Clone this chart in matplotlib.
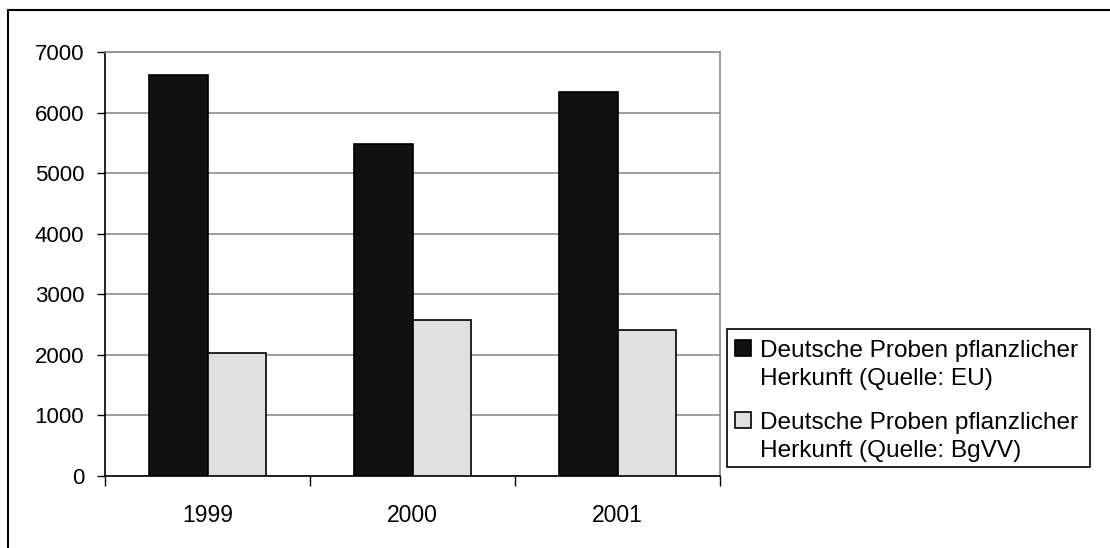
import matplotlib
matplotlib.use("Agg")

import matplotlib.pyplot as plt
import numpy as np
from matplotlib.patches import Rectangle

plt.rcParams["font.family"] = ["Liberation Sans", "DejaVu Sans"]

# data
years = ["1999", "2000", "2001"]
eu_values = [6620, 5485, 6340]
bgvv_values = [2040, 2580, 2420]
series_labels = [
    ["Deutsche Proben pflanzlicher", "Herkunft (Quelle: EU)"],
    ["Deutsche Proben pflanzlicher", "Herkunft (Quelle: BgVV)"],
]
series_colors = ["#111111", "#e0e0e0"]
y_ticks = [0, 1000, 2000, 3000, 4000, 5000, 6000, 7000]

W, H = 1110, 548


def fx(px):
    return px / W


def fy(py):
    return 1 - py / H


fig = plt.figure(figsize=(W / 100, H / 100), dpi=100)
ax = fig.add_axes([fx(105), fy(476), (720 - 105) / W, (476 - 52.3) / H])

x = np.arange(len(years))
bar_w = 0.283
ax.bar(x - bar_w / 2, eu_values, bar_w, color=series_colors[0],
       edgecolor="black", linewidth=1.2, zorder=3)
ax.bar(x + bar_w / 2, bgvv_values, bar_w, color=series_colors[1],
       edgecolor="black", linewidth=1.2, zorder=3)

ax.set_xlim(-0.5, len(years) - 0.5)
ax.set_ylim(0, 7000)
ax.set_yticks(y_ticks)
ax.set_yticklabels([str(v) for v in y_ticks])
ax.yaxis.grid(True, color="#8c8c8c", linewidth=1.2, zorder=0)

# category labels centred, ticks on the boundaries
ax.set_xticks(x)
ax.set_xticklabels(years)
ax.set_xticks(np.arange(-0.5, len(years)), minor=True)
ax.tick_params(axis="x", which="major", length=0, pad=20, labelsize=16.5)
ax.tick_params(axis="x", which="minor", length=7, width=1, direction="out")
ax.tick_params(axis="y", length=6, width=1, direction="out", pad=9, labelsize=16)

for side in ("top", "right"):
    ax.spines[side].set_color("#8c8c8c")
    ax.spines[side].set_linewidth(1.2)
for side in ("left", "bottom"):
    ax.spines[side].set_color("black")
    ax.spines[side].set_linewidth(1.2)

# legend drawn by hand so the swatch sits on the first text line (Excel style)
fig.patches.append(Rectangle((fx(727), fy(467)), (1090 - 727) / W, (467 - 329) / H,
                             transform=fig.transFigure, fill=False,
                             edgecolor="black", linewidth=1.2))
entry_top = [340, 412]
for lines, color, top in zip(series_labels, series_colors, entry_top):
    fig.patches.append(Rectangle((fx(735), fy(top + 16)), 16 / W, 16 / H,
                                 transform=fig.transFigure, facecolor=color,
                                 edgecolor="black", linewidth=1.2))
    for i, line in enumerate(lines):
        fig.text(fx(760), fy(top + 17 + i * 28), line, fontsize=17.6,
                 va="baseline", ha="left")

# outer chart frame (only top/left edges are visible in the reference)
fig.patches.append(Rectangle((fx(8), -0.1), 1.2, fy(10) + 0.1,
                             transform=fig.transFigure, fill=False,
                             edgecolor="black", linewidth=1.5))

fig.savefig("out.png", dpi=100)
